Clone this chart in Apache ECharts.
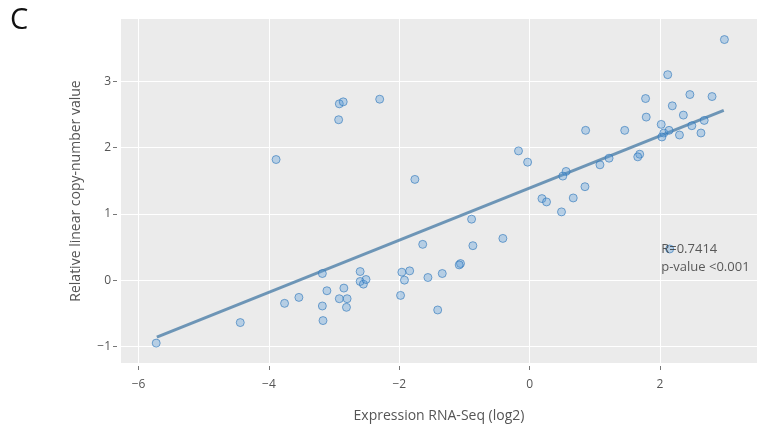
<!DOCTYPE html>
<html>
<head>
<meta charset="utf-8">
<script src="https://cdn.jsdelivr.net/npm/echarts@6/dist/echarts.min.js"></script>
<style>
  html, body { margin: 0; padding: 0; background: #fff; }
  #chart { width: 767px; height: 434px; }
</style>
</head>
<body>
<div id="chart"></div>
<script>
// expression (log2) vs copy-number
const expr = [
  -2.92, -2.86, -2.93, -2.30, -3.89, -1.76, 2.99, 2.12, 1.78, 2.46,
  2.80, 2.19, 1.79, 2.36, 0.86, 1.46, 2.02, 2.49, 2.68, 2.06,
  2.14, 2.30, 2.63, 2.03, -0.17, -0.03, 0.56, 0.51, 1.08, 1.22,
  1.69, 1.66, 0.85, 0.19, 0.26, 0.67, 0.49, -0.89, -0.41, -0.87,
  -1.64, -1.06, -1.08, -1.34, -1.56, -1.41, 2.15, -5.73, -4.44, -3.76,
  -3.54, -3.18, -3.18, -3.17, -3.11, -2.92, -2.85, -2.80, -2.81, -2.60,
  -2.60, -2.55, -2.51, -1.98, -1.96, -1.92, -1.84
]
const copyNum = [
  2.66, 2.69, 2.42, 2.73, 1.82, 1.52, 3.63, 3.10, 2.74, 2.80,
  2.77, 2.63, 2.46, 2.49, 2.26, 2.26, 2.35, 2.33, 2.41, 2.22,
  2.26, 2.19, 2.22, 2.16, 1.95, 1.78, 1.64, 1.57, 1.74, 1.84,
  1.90, 1.86, 1.41, 1.23, 1.18, 1.24, 1.03, 0.92, 0.63, 0.52,
  0.54, 0.25, 0.23, 0.10, 0.04, -0.45, 0.47, -0.95, -0.64, -0.35,
  -0.26, 0.10, -0.39, -0.61, -0.16, -0.28, -0.12, -0.28, -0.41, 0.13,
  -0.02, -0.06, 0.01, -0.23, 0.12, 0.00, 0.14
]

// fitted line end points
const fitX = [-5.72, 2.98]
const fitY = [-0.86, 2.56]

const xTicks = [-6, -4, -2, 0, 2]
const yTicks = [-1, 0, 1, 2, 3]

const statText = 'R=0.7414\np-value <0.001'
const statPos = [2.02, 0.335]

const font = '"Open Sans", "Noto Sans", sans-serif'
const minus = v => String(v).replace('-', '\u2212')

const chart = echarts.init(document.getElementById('chart'))

const option = {
  animation: false,
  textStyle: { fontFamily: font },
  graphic: [
    {
      type: 'text',
      left: 10,
      top: 6,
      style: { text: 'C', fontSize: 29, fontFamily: font, fill: '#111' }
    }
  ],
  grid: {
    left: 121,
    right: 10,
    top: 19,
    bottom: 71,
    show: true,
    backgroundColor: '#ebebeb',
    borderWidth: 0
  },
  xAxis: {
    type: 'value',
    min: -6.27,
    max: 3.49,
    offset: 3,
    name: 'Expression RNA-Seq (log2)',
    nameLocation: 'middle',
    nameGap: 43,
    nameTextStyle: { fontSize: 14, color: '#555', fontFamily: font },
    axisLine: { show: false, onZero: false },
    axisTick: { show: true, length: 4, lineStyle: { color: '#777' }, customValues: xTicks },
    axisLabel: { customValues: xTicks, margin: 13, fontSize: 12, color: '#555', formatter: minus },
    splitLine: { show: true, lineStyle: { color: '#fff', width: 1 } }
  },
  yAxis: {
    type: 'value',
    min: -1.25,
    max: 3.94,
    offset: 4,
    name: 'Relative linear copy-number value',
    nameLocation: 'middle',
    nameGap: 34,
    nameTextStyle: { fontSize: 14, color: '#555', fontFamily: font },
    axisLine: { show: false, onZero: false },
    axisTick: { show: true, length: 4, lineStyle: { color: '#777' }, customValues: yTicks },
    axisLabel: { customValues: yTicks, margin: 6, fontSize: 12, color: '#555', formatter: minus },
    splitLine: { show: true, lineStyle: { color: '#fff', width: 1 } }
  },
  series: [
    {
      name: 'fit',
      type: 'line',
      data: fitX.map((x, i) => [x, fitY[i]]),
      showSymbol: false,
      lineStyle: { color: '#5786ad', width: 3, opacity: 0.85 },
      z: 2
    },
    {
      name: 'samples',
      type: 'scatter',
      data: expr.map((x, i) => [x, copyNum[i]]),
      symbolSize: 8,
      itemStyle: {
        color: 'rgba(90,155,215,0.45)',
        borderColor: 'rgba(40,115,185,0.75)',
        borderWidth: 1
      },
      z: 3
    },
    {
      name: 'stats',
      type: 'scatter',
      data: [statPos],
      symbolSize: 0,
      silent: true,
      label: {
        show: true,
        position: 'right',
        distance: 0,
        formatter: statText,
        fontSize: 13,
        lineHeight: 18,
        color: '#333',
        fontFamily: font
      },
      z: 5
    }
  ]
}

chart.setOption(option)
</script>
</body>
</html>
